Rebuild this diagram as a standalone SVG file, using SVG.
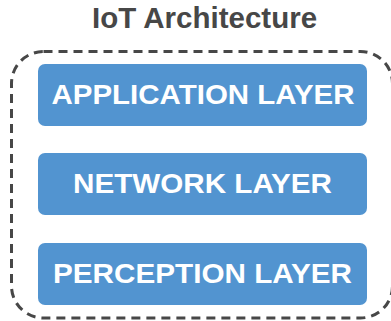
<svg xmlns="http://www.w3.org/2000/svg" width="391" height="321" viewBox="0 0 391 321">
  <style>
    .title { font-family: "Liberation Sans", Arial, sans-serif; font-weight: bold; font-size: 29.5px; fill: #474747; text-anchor: middle; }
    .layer rect { fill: #5294d0; }
    .layer text { font-family: "Liberation Sans", Arial, sans-serif; font-weight: bold; font-size: 28.5px; fill: #ffffff; text-anchor: middle; }
    .frame { fill: none; stroke: #474747; stroke-width: 3; stroke-dasharray: 9 6; }
  </style>
  <rect width="391" height="321" fill="#ffffff"/>
  <text class="title" x="204.5" y="28.3">IoT Architecture</text>
  <g id="frame">
    <rect class="frame" x="11.5" y="51.5" width="381" height="266.5" rx="32" ry="32"/>
  </g>
  <g id="application-layer" class="layer">
    <rect x="38" y="64" width="329" height="62" rx="7"/>
    <text x="203" y="104" textLength="303" lengthAdjust="spacingAndGlyphs">APPLICATION LAYER</text>
  </g>
  <g id="network-layer" class="layer">
    <rect x="38" y="153" width="329" height="62" rx="7"/>
    <text x="202.5" y="193" textLength="259" lengthAdjust="spacingAndGlyphs">NETWORK LAYER</text>
  </g>
  <g id="perception-layer" class="layer">
    <rect x="38" y="243" width="329" height="62" rx="7"/>
    <text x="202.5" y="283" textLength="299" lengthAdjust="spacingAndGlyphs">PERCEPTION LAYER</text>
  </g>
</svg>
